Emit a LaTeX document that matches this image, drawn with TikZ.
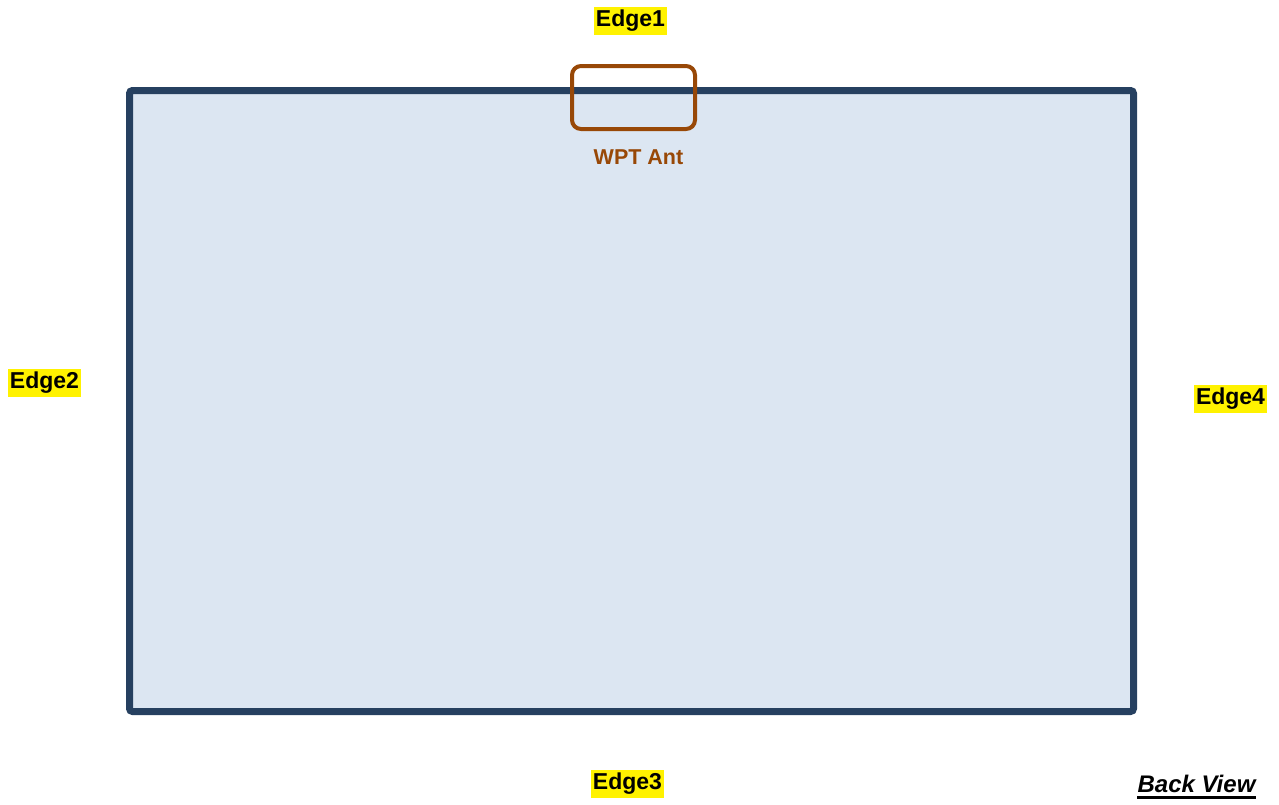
\documentclass[tikz,border=0pt]{standalone}
\usepackage{fontspec}
\setmainfont{Liberation Sans}
\definecolor{frame}{RGB}{38,64,96}
\definecolor{panelfill}{RGB}{220,230,242}
\definecolor{ant}{RGB}{152,72,7}
\begin{document}
\begin{tikzpicture}[x=1pt,y=-1pt,
  edgelabel/.style={fill=yellow, inner xsep=2pt, inner ysep=3.5pt, font=\fontsize{23}{25}\selectfont\bfseries, text height=16.5pt, text depth=4.5pt},
  panel/.style={draw=frame, fill=panelfill, line width=7pt, rounded corners=3pt, inner sep=0pt},
  antbox/.style={draw=ant, line width=4pt, rounded corners=9pt, inner sep=0pt},
  antlabel/.style={text=ant, font=\fontsize{21.5}{24}\selectfont\bfseries, inner sep=0pt},
  viewlabel/.style={font=\fontsize{24}{26}\selectfont\bfseries\itshape, inner sep=0pt}]
\useasboundingbox (0,0) rectangle (1279,804);
\node[panel, minimum width=1004pt, minimum height=621pt] (panel) at (631.5,401) {};
\node[antbox, minimum width=123pt, minimum height=63pt] (ant) at (633.5,97.5) {};
\node[antlabel] (antl) at (638.5,157) {WPT Ant};
\node[edgelabel] (e1) at (630.5,20.5) {Edge1};
\node[edgelabel] (e2) at (44.5,382.5) {Edge2};
\node[edgelabel] (e4) at (1230.5,398.5) {Edge4};
\node[edgelabel] (e3) at (627.5,783.5) {Edge3};
\node[viewlabel, anchor=base] (bv) at (1196.5,792) {Back View};
\coordinate (ul1) at (1137,797.5);
\coordinate (ul2) at (1256,797.5);
\draw[line width=2.5pt] (ul1) -- (ul2);
\end{tikzpicture}
\end{document}
